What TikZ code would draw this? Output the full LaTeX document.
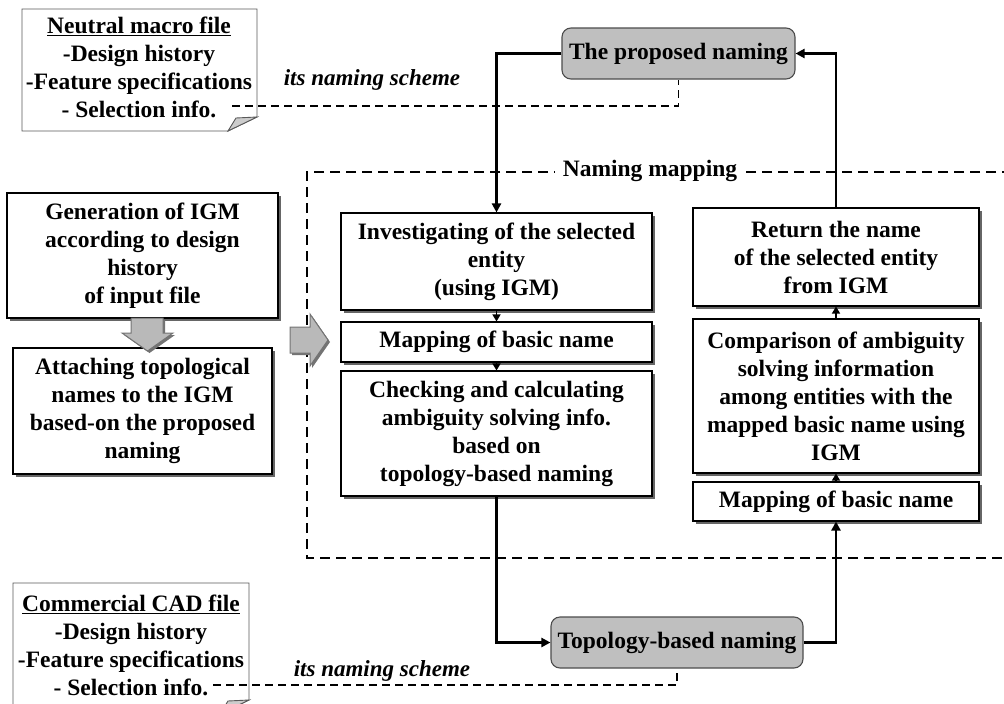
\documentclass[tikz,border=0pt]{standalone}
\usepackage{fontspec}
\setmainfont{Liberation Serif}
\usetikzlibrary{shadows,arrows.meta,calc}
\begin{document}
\begin{tikzpicture}[x=1pt,y=-1pt,
  every node/.style={font=\fontsize{23.5}{28}\selectfont\bfseries, align=center, inner sep=0pt},
  box/.style={draw, fill=white, line width=1.1pt,
    drop shadow={shadow xshift=3pt, shadow yshift=-3pt, fill=black!60, opacity=1}},
  pill/.style={draw=black!70, fill=gray!50, line width=1.1pt, rounded corners=9pt},
  flow/.style={line width=2.4pt, -{Triangle[length=9pt,width=9pt]}},
  link/.style={line width=1.4pt, -{Triangle[length=7pt,width=8pt]}},
  scheme/.style={line width=1.4pt, dash pattern=on 8pt off 5pt},
  mapline/.style={line width=1.8pt, dash pattern=on 10pt off 6pt},
  note/.style={draw=black!65, line width=0.9pt, fill=white},
  fold/.style={draw=black!65, line width=0.9pt, fill=gray!40},
  blockarrow/.style={draw=black!55, fill=gray!55, line width=1pt,
    drop shadow={shadow xshift=2pt, shadow yshift=-2pt, fill=black!55, opacity=1}},
  schemelabel/.style={font=\fontsize{23}{28}\selectfont\bfseries\itshape}
]
\useasboundingbox (0,0) rectangle (1004,704);

% naming-mapping frame (open to the right)
\draw[mapline] (1012,172) -- (307,172) -- (307,558) -- (1012,558);
\node[fill=white, inner xsep=8pt, inner ysep=2pt] (maplabel) at (650,171) {Naming mapping};

% source documents
\draw[note] (22,9) -- (257,9) -- (257,117) -- (228,131) -- (22,131) -- cycle;
\draw[fold] (228,131) -- (236,118) -- (257,117) -- cycle;
\node (note1) at (139,67) {\underline{Neutral macro file}\\-Design history\\-Feature specifications\\- Selection info.};

\draw[note] (13,583) -- (249,583) -- (249,700) -- (220,714) -- (13,714) -- cycle;
\draw[fold] (220,714) -- (228,701) -- (249,700) -- cycle;
\node (note2) at (131,645) {\underline{Commercial CAD file}\\-Design history\\-Feature specifications\\- Selection info.};

\coordinate (s1) at (232,106);
\coordinate (s2) at (213,685);

% naming schemes
\node[pill, minimum width=233pt, minimum height=51pt] (prop) at (678.5,53.5) {The proposed naming};
\node[pill, minimum width=252pt, minimum height=51pt] (topo) at (677,642.5) {Topology-based naming};

\node[schemelabel] (lab1) at (372,80) {its naming scheme};
\node[schemelabel] (lab2) at (382,671) {its naming scheme};

\draw[scheme] (s1) -| (prop.south);
\draw[scheme] (s2) -| (topo.south);

% IGM preparation
\node[box, minimum width=271pt, minimum height=125pt] (gen) at (142.5,255.5)
  {Generation of IGM\\according to design\\history\\of input file};
\node[box, minimum width=259pt, minimum height=126pt] (att) at (142.5,411)
  {Attaching topological\\names to the IGM\\based-on the proposed\\naming};
\draw[blockarrow] (131,318) -- (163,318) -- (163,333) -- (173,333) -- (147.5,351)
  -- (122,333) -- (131,333) -- cycle;
\draw[blockarrow] (290,327) -- (310,327) -- (310,314) -- (328,340) -- (310,366)
  -- (310,353) -- (290,353) -- cycle;

% forward mapping
\node[box, minimum width=311pt, minimum height=97pt] (inv) at (496.5,261.5)
  {Investigating of the selected\\entity\\(using IGM)};
\node[box, minimum width=311pt, minimum height=40pt] (map1) at (496.5,342)
  {Mapping of basic name};
\node[box, minimum width=311pt, minimum height=125pt] (check) at (496.5,433.5)
  {Checking and calculating\\ambiguity solving info.\\based on\\topology-based naming};

% backward mapping
\node[box, minimum width=286pt, minimum height=98pt] (ret) at (836,257)
  {Return the name\\of the selected entity\\from IGM};
\node[box, minimum width=286pt, minimum height=154pt] (comp) at (836,396)
  {Comparison of ambiguity\\solving information\\among entities with the\\mapped basic name using\\IGM};
\node[box, minimum width=286pt, minimum height=39pt] (map2) at (836,501.5)
  {Mapping of basic name};

\draw[link] (inv.south) -- (map1.north);
\draw[link] (map1.south) -- (check.north);
\draw[link] (map2.north) -- (comp.south);
\draw[link] (comp.north) -- (ret.south);

% main loop
\draw[flow] (prop.west) -| (inv.north);
\draw[flow] (check.south) |- (topo.west);
\draw[flow] (topo.east) -| (map2.south);
\draw[flow] (ret.north) |- (prop.east);
\end{tikzpicture}
\end{document}
